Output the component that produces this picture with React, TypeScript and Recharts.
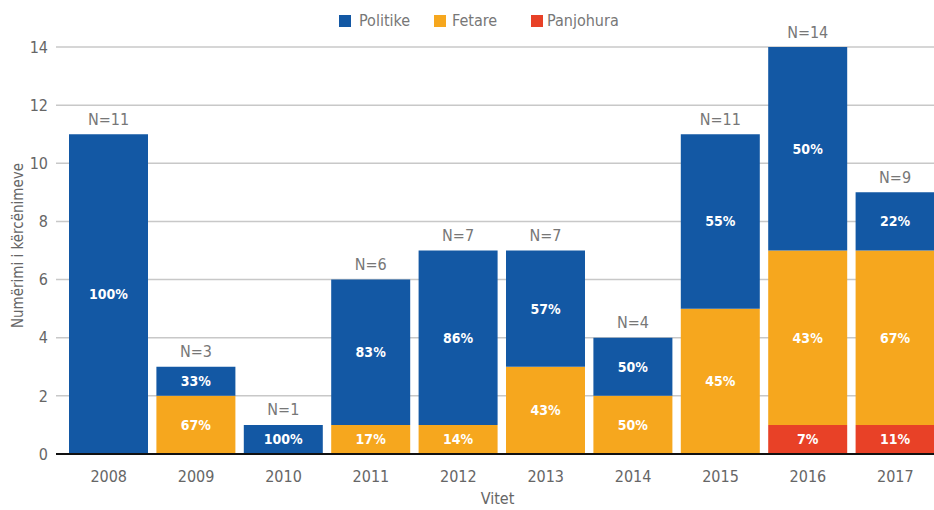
import React from 'react';
import { BarChart, Bar, XAxis, YAxis, CartesianGrid, LabelList, Label } from 'recharts';

const years = ['2008', '2009', '2010', '2011', '2012', '2013', '2014', '2015', '2016', '2017'];
const politike = [11, 1, 1, 5, 6, 4, 2, 6, 7, 2];
const fetare = [0, 2, 0, 1, 1, 3, 2, 5, 6, 6];
const panjohura = [0, 0, 0, 0, 0, 0, 0, 0, 1, 1];
const totals = ['N=11', 'N=3', 'N=1', 'N=6', 'N=7', 'N=7', 'N=4', 'N=11', 'N=14', 'N=9'];
const pctPolitike = ['100%', '33%', '100%', '83%', '86%', '57%', '50%', '55%', '50%', '22%'];
const pctFetare = ['', '67%', '', '17%', '14%', '43%', '50%', '45%', '43%', '67%'];
const pctPanjohura = ['', '', '', '', '', '', '', '', '7%', '11%'];
const yTicks = [0, 2, 4, 6, 8, 10, 12, 14];

const legendItems = [
  { name: 'Politike', color: '#1358A4', sq: 339, tx: 359 },
  { name: 'Fetare', color: '#F6A71E', sq: 434, tx: 452 },
  { name: 'Panjohura', color: '#E84127', sq: 531, tx: 547 },
];

const data = years.map((y, i) => ({
  year: y,
  politike: politike[i],
  fetare: fetare[i],
  panjohura: panjohura[i],
  total: totals[i],
  pP: pctPolitike[i],
  pF: pctFetare[i],
  pJ: pctPanjohura[i],
}));

const FONT = '"DejaVu Sans", sans-serif';
const COND: React.CSSProperties = { fontStretch: 'condensed' };

const pctLabel = (props: any) => {
  const { x, y, width, height, value } = props;
  if (!value) return null;
  return (
    <text
      x={x + width / 2}
      y={y + height / 2}
      textAnchor="middle"
      dominantBaseline="central"
      fill="#ffffff"
      fontWeight="bold"
      fontSize={14}
      fontFamily={FONT}
      style={COND}
    >
      {value}
    </text>
  );
};

const totalLabel = (props: any) => {
  const { x, y, width, value } = props;
  return (
    <text
      x={x + width / 2}
      y={y - 15}
      textAnchor="middle"
      dominantBaseline="central"
      fill="#777777"
      fontSize={16}
      fontFamily={FONT}
      style={COND}
    >
      {value}
    </text>
  );
};

const yLabel = (props: any) => {
  const { viewBox } = props;
  const cy = viewBox.y + viewBox.height / 2 - 5;
  return (
    <text
      x={18}
      y={cy}
      transform={`rotate(-90, 18, ${cy})`}
      textAnchor="middle"
      dominantBaseline="central"
      fill="#666"
      fontSize={15}
      fontFamily={FONT}
      style={COND}
    >
      Numërimi i kërcënimeve
    </text>
  );
};

export default function App() {
  return (
    <div style={{ position: 'absolute', left: 0, top: 0, width: 934, height: 510, overflow: 'hidden', background: '#fff' }}>
      {legendItems.map((it) => (
        <React.Fragment key={it.name}>
          <div style={{ position: 'absolute', left: it.sq, top: 15, width: 12, height: 12, background: it.color }} />
          <div
            style={{
              position: 'absolute',
              left: it.tx,
              top: 10,
              lineHeight: '22px',
              fontFamily: FONT,
              fontStretch: 'condensed',
              fontSize: 16,
              color: '#777',
              whiteSpace: 'nowrap',
            }}
          >
            {it.name}
          </div>
        </React.Fragment>
      ))}
      <BarChart
        width={940}
        height={510}
        data={data}
        margin={{ top: 47, right: 1, bottom: 0, left: 0 }}
        barCategoryGap={4}
      >
        <CartesianGrid vertical={false} stroke="#c8c8c8" strokeWidth={1.5} />
        <XAxis
          dataKey="year"
          padding={{ left: 9, right: 0 }}
          axisLine={{ stroke: '#111', strokeWidth: 2 }}
          tickLine={false}
          tick={{ fill: '#666', fontSize: 16, fontFamily: FONT, style: COND }}
          tickMargin={11}
          height={56}
        >
          <Label value="Vitet" position="insideBottom" offset={6} fill="#666" fontSize={16} fontFamily={FONT} style={COND} />
        </XAxis>
        <YAxis
          domain={[0, 14]}
          ticks={yTicks}
          interval={0}
          axisLine={false}
          tickLine={false}
          width={56}
          tick={{ fill: '#666', fontSize: 16, fontFamily: FONT, style: COND }}
        >
          <Label content={yLabel} />
        </YAxis>
        <Bar dataKey="panjohura" stackId="a" fill="#E84127" isAnimationActive={false}>
          <LabelList dataKey="pJ" content={pctLabel} />
        </Bar>
        <Bar dataKey="fetare" stackId="a" fill="#F6A71E" isAnimationActive={false}>
          <LabelList dataKey="pF" content={pctLabel} />
        </Bar>
        <Bar dataKey="politike" stackId="a" fill="#1358A4" isAnimationActive={false}>
          <LabelList dataKey="pP" content={pctLabel} />
          <LabelList dataKey="total" content={totalLabel} />
        </Bar>
      </BarChart>
    </div>
  );
}
